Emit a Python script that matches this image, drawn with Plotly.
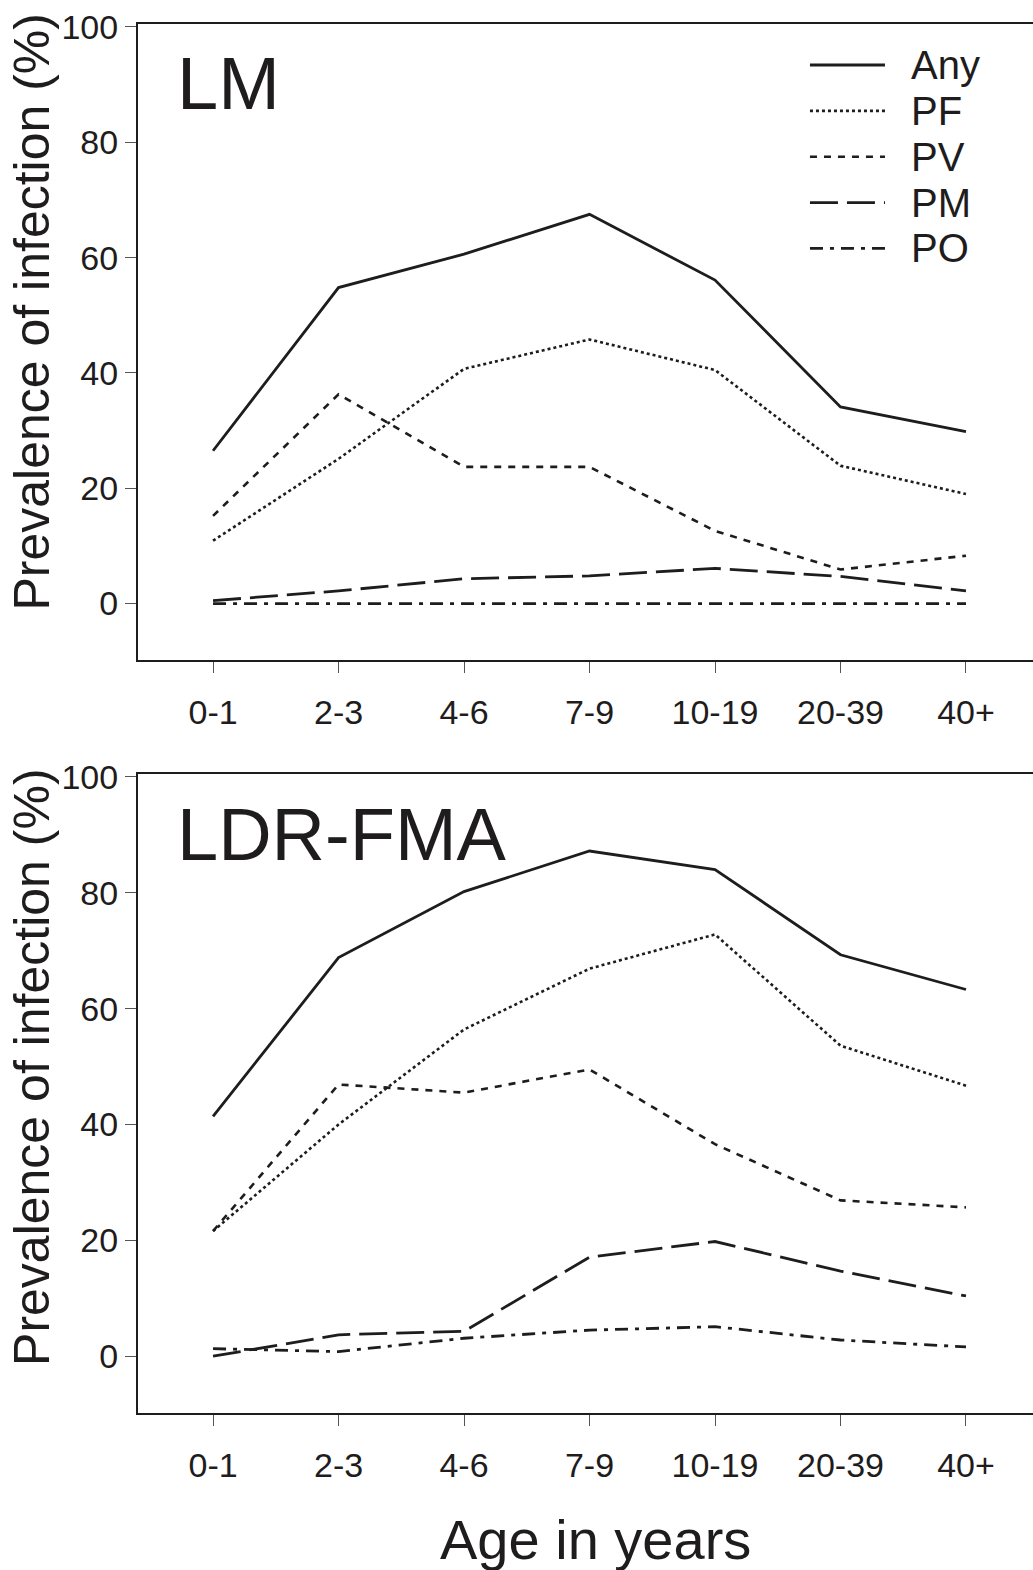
import plotly.graph_objects as go

ages = ["0-1", "2-3", "4-6", "7-9", "10-19", "20-39", "40+"]
series_names = ["Any", "PF", "PV", "PM", "PO"]

lm_any = [26.5, 54.8, 60.6, 67.5, 56.1, 34.1, 29.8]
lm_pf = [10.9, 25.1, 40.7, 45.8, 40.5, 23.9, 19.0]
lm_pv = [15.2, 36.3, 23.7, 23.7, 12.6, 5.9, 8.3]
lm_pm = [0.5, 2.2, 4.3, 4.8, 6.1, 4.7, 2.2]
lm_po = [0.0, 0.0, 0.0, 0.0, 0.0, 0.0, 0.0]

ldr_any = [41.4, 68.8, 80.2, 87.2, 84.0, 69.3, 63.3]
ldr_pf = [21.6, 40.0, 56.4, 66.9, 72.8, 53.6, 46.7]
ldr_pv = [21.6, 46.9, 45.5, 49.5, 36.6, 26.9, 25.7]
ldr_pm = [0.0, 3.7, 4.3, 17.1, 19.8, 14.7, 10.4]
ldr_po = [1.3, 0.8, 3.1, 4.5, 5.1, 2.8, 1.6]

y_ticks = [0, 20, 40, 60, 80, 100]

panel_titles = ["LM", "LDR-FMA"]
panels = [
    [lm_any, lm_pf, lm_pv, lm_pm, lm_po],
    [ldr_any, ldr_pf, ldr_pv, ldr_pm, ldr_po],
]

INK = "#1e1c1c"
FONT = "Liberation Sans, Arial, sans-serif"
dashes = ["solid", "3px,3px", "7px,7px", "28px,9px", "13px,7px,4px,7px"]
widths = [2.8, 2.6, 2.6, 2.8, 2.8]

fig = go.Figure()
for p, data in enumerate(panels):
    xa = "x" if p == 0 else "x2"
    ya = "y" if p == 0 else "y2"
    for name, vals, d, w in zip(series_names, data, dashes, widths):
        fig.add_trace(go.Scatter(
            x=list(range(len(ages))), y=vals, mode="lines", name=name,
            line=dict(color=INK, width=w, dash=d),
            xaxis=xa, yaxis=ya, showlegend=False, hoverinfo="skip",
        ))

axis_common = dict(
    showgrid=False, zeroline=False, showline=True, linecolor=INK, linewidth=2,
    ticks="outside", ticklen=11, tickwidth=1, tickcolor="#555555",
    tickfont=dict(family=FONT, size=34, color=INK),
    ticklabeloverflow="allow",
)
xr = [-0.598, 6.534]
yr = [-9.8, 100.5]
top_dom = [0.5413, 0.9985]
bot_dom = [0.0, 0.4594]

fig.update_layout(
    width=1033, height=1570,
    margin=dict(l=138, r=0, t=22, b=157),
    paper_bgcolor="white", plot_bgcolor="white",
    font=dict(family=FONT, color=INK),
    xaxis=dict(**axis_common, range=xr, domain=[0, 1], anchor="y", mirror=True,
               tickmode="array", tickvals=list(range(len(ages))), ticktext=ages,
               ticklabelstandoff=10),
    yaxis=dict(**axis_common, range=yr, domain=top_dom, anchor="x",
               tickmode="array", tickvals=y_ticks),
    xaxis2=dict(**axis_common, range=xr, domain=[0, 1], anchor="y2", mirror=True,
                tickmode="array", tickvals=list(range(len(ages))), ticktext=ages,
                ticklabelstandoff=10),
    yaxis2=dict(**axis_common, range=yr, domain=bot_dom, anchor="x2",
                tickmode="array", tickvals=y_ticks),
)

annotations = []
shapes = []
for p, title in enumerate(panel_titles):
    xd = "x domain" if p == 0 else "x2 domain"
    yd = "y domain" if p == 0 else "y2 domain"
    annotations.append(dict(text=title, xref=xd, yref=yd, x=0.041, y=0.906,
                            xanchor="left", yanchor="middle", showarrow=False,
                            font=dict(family=FONT, size=74, color=INK)))
    annotations.append(dict(text="Prevalence of infection (%)", xref=xd, yref=yd,
                            x=0, y=0.548 if p == 0 else 0.5415, xshift=-106,
                            xanchor="center", yanchor="middle", textangle=-90,
                            showarrow=False,
                            font=dict(family=FONT, size=50, color=INK)))

annotations.append(dict(text="Age in years", xref="paper", yref="paper",
                        x=0.5117, y=-0.0913, xanchor="center", yanchor="middle",
                        showarrow=False, font=dict(family=FONT, size=56, color=INK)))

# legend drawn in top panel
leg_y0 = 0.9357
leg_step = 0.0721
for i, (name, d, w) in enumerate(zip(series_names, dashes, widths)):
    yy = leg_y0 - i * leg_step
    shapes.append(dict(type="line", xref="x domain", yref="y domain",
                       x0=0.7508, x1=0.8346, y0=yy, y1=yy,
                       line=dict(color=INK, width=w, dash=d)))
    annotations.append(dict(text=name, xref="x domain", yref="y domain",
                            x=0.862, y=yy, xanchor="left", yanchor="middle",
                            showarrow=False,
                            font=dict(family=FONT, size=40, color=INK)))

fig.update_layout(annotations=annotations, shapes=shapes)
fig.write_html("out.html", config={"displayModeBar": False},
               post_script="document.body.style.margin='0px';document.body.style.overflow='hidden';")
